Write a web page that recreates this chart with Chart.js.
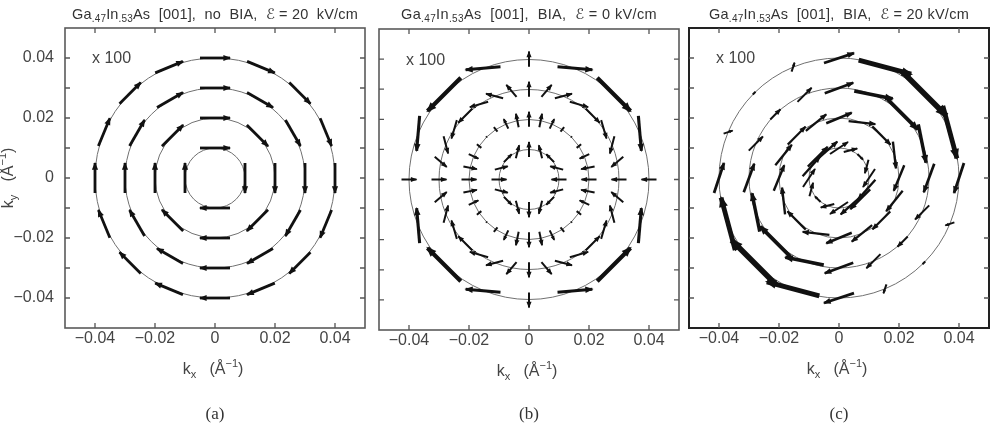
<!DOCTYPE html>
<html>
<head>
<meta charset="utf-8">
<script src="https://cdn.jsdelivr.net/npm/chart.js@4.4.1/dist/chart.umd.min.js"></script>
<style>
  html, body { margin: 0; padding: 0; background: #fff; }
  #wrap { position: relative; width: 997px; height: 434px; overflow: hidden; }
  .panel { position: absolute; top: 0; }
</style>
</head>
<body>
<div id="wrap">
  <div class="panel" style="left:0px"><canvas id="pa" width="372" height="434"></canvas></div>
  <div class="panel" style="left:372px"><canvas id="pb" width="310" height="434"></canvas></div>
  <div class="panel" style="left:682px"><canvas id="pc" width="315" height="434"></canvas></div>
</div>
<script>
'use strict';

// circles in k-space (1/Angstrom)
const rings = [0.01, 0.02, 0.03, 0.04];

// axis ticks
const xTickVals = [-0.04, -0.02, 0, 0.02, 0.04];
const xTickLabels = ['\u22120.04', '\u22120.02', '0', '0.02', '0.04'];
const yTickVals = [-0.04, -0.02, 0, 0.02, 0.04];
const yTickLabels = ['\u22120.04', '\u22120.02', '0', '0.02', '0.04'];
const yMinorVals = [-0.04, -0.03, -0.02, -0.01, 0, 0.01, 0.02, 0.03, 0.04];

// panel texts
const titleTails = ['As  [001],  no  BIA,  \u2130 = 20  kV/cm', 'As  [001],  BIA,  \u2130 = 0 kV/cm', 'As  [001],  BIA,  \u2130 = 20 kV/cm'];
const captions = ['(a)', '(b)', '(c)'];

// (a) Rashba only: sample angles on each ring, arrows tangent (clockwise), fixed length
const aAngles = [
  [0, 90, 180, 270],
  [0, 45, 90, 135, 180, 225, 270, 315],
  [0, 30, 60, 90, 120, 150, 180, 210, 240, 270, 300, 330],
  [0, 22.5, 45, 67.5, 90, 112.5, 135, 157.5, 180, 202.5, 225, 247.5, 270, 292.5, 315, 337.5]
];
const aLength = 0.01;

// sample angles used in (b) and (c)
const ang16 = [0, 22.5, 45, 67.5, 90, 112.5, 135, 157.5, 180, 202.5, 225, 247.5, 270, 292.5, 315, 337.5];
const ang32 = [0, 11.25, 22.5, 33.75, 45, 56.25, 67.5, 78.75, 90, 101.25, 112.5, 123.75, 135, 146.25, 157.5, 168.75,
               180, 191.25, 202.5, 213.75, 225, 236.25, 247.5, 258.75, 270, 281.25, 292.5, 303.75, 315, 326.25, 337.5, 348.75];

// (b) BIA, E = 0 : spin vectors [dx, dy] (x100)
const bVec1 = [[-0.005,0],[-0.0043,0.0011],[-0.0026,0.0026],[-0.0011,0.0043],[0,0.005],[0.0011,0.0043],[0.0026,0.0026],[0.0043,0.0011],
               [0.005,0],[0.0043,-0.0011],[0.0026,-0.0026],[0.0011,-0.0043],[0,-0.005],[-0.0011,-0.0043],[-0.0026,-0.0026],[-0.0043,-0.0011]];
const bVec2 = [[-0.005,0],[-0.0045,-0.0009],[-0.0032,-0.0015],[-0.0015,-0.0012],[0.0003,-0.0003],[0.0012,0.0015],[0.0015,0.0032],[0.0009,0.0045],
               [0,0.005],[-0.0009,0.0045],[-0.0015,0.0032],[-0.0012,0.0015],[-0.0003,-0.0003],[0.0015,-0.0012],[0.0032,-0.0015],[0.0045,-0.0009],
               [0.005,0],[0.0045,0.0009],[0.0032,0.0015],[0.0015,0.0012],[-0.0003,0.0003],[-0.0012,-0.0015],[-0.0015,-0.0032],[-0.0009,-0.0045],
               [0,-0.005],[0.0009,-0.0045],[0.0015,-0.0032],[0.0012,-0.0015],[0.0003,0.0003],[-0.0015,0.0012],[-0.0032,0.0015],[-0.0045,0.0009]];
const bVec3 = [[-0.005,0],[-0.0040,-0.0034],[-0.0015,-0.0057],[0.0018,-0.0061],[0.0047,-0.0047],[0.0061,-0.0018],[0.0057,0.0015],[0.0034,0.0040],
               [0,0.005],[-0.0034,0.0040],[-0.0057,0.0015],[-0.0061,-0.0018],[-0.0047,-0.0047],[-0.0018,-0.0061],[0.0015,-0.0057],[0.0040,-0.0034],
               [0.005,0],[0.0040,0.0034],[0.0015,0.0057],[-0.0018,0.0061],[-0.0047,0.0047],[-0.0061,0.0018],[-0.0057,-0.0015],[-0.0034,-0.0040],
               [0,-0.005],[0.0034,-0.0040],[0.0057,-0.0015],[0.0061,0.0018],[0.0047,0.0047],[0.0018,0.0061],[-0.0015,0.0057],[-0.0040,0.0034]];
const bVec4 = [[-0.005,0],[0.0010,-0.0116],[0.0111,-0.0111],[0.0116,-0.0010],[0,0.005],[-0.0116,-0.0010],[-0.0111,-0.0111],[-0.0010,-0.0116],
               [0.005,0],[-0.0010,0.0116],[-0.0111,0.0111],[-0.0116,0.0010],[0,-0.005],[0.0116,0.0010],[0.0111,0.0111],[0.0010,0.0116]];

// (c) BIA, E = 20 kV/cm : spin vectors [dx, dy] (x100)
const cVec1 = [[-0.0040,-0.0060],[-0.0012,-0.0045],[0.0019,-0.0019],[0.0045,0.0012],[0.0060,0.0040],[0.0065,0.0058],[0.0066,0.0066],[0.0058,0.0065],
               [0.0040,0.0060],[0.0012,0.0045],[-0.0019,0.0019],[-0.0045,-0.0012],[-0.0060,-0.0040],[-0.0065,-0.0058],[-0.0066,-0.0066],[-0.0058,-0.0065]];
const cVec2 = [[-0.0035,-0.0085],[0.0010,-0.0089],[0.0061,-0.0061],[0.0089,-0.0010],[0.0085,0.0035],[0.0068,0.0055],[0.0059,0.0059],[0.0055,0.0068],
               [0.0035,0.0085],[-0.0010,0.0089],[-0.0061,0.0061],[-0.0089,0.0010],[-0.0085,-0.0035],[-0.0068,-0.0055],[-0.0059,-0.0059],[-0.0055,-0.0068]];
const cVec3 = [[-0.0035,-0.0095],[0.0026,-0.0128],[0.0100,-0.0100],[0.0128,-0.0026],[0.0095,0.0035],[0.0047,0.0047],[0.0034,0.0034],[0.0047,0.0047],
               [0.0035,0.0095],[-0.0026,0.0128],[-0.0100,0.0100],[-0.0128,0.0026],[-0.0095,-0.0035],[-0.0047,-0.0047],[-0.0034,-0.0034],[-0.0047,-0.0047]];
const cVec4 = [[-0.0033,-0.0100],[0.0047,-0.0175],[0.0150,-0.0150],[0.0175,-0.0047],[0.0100,0.0033],[0.0010,0.0030],[-0.0009,-0.0009],[0.0030,0.0010],
               [0.0033,0.0100],[-0.0047,0.0175],[-0.0150,0.0150],[-0.0175,0.0047],[-0.0100,-0.0033],[-0.0010,-0.0030],[0.0009,0.0009],[-0.0030,-0.0010]];

const SANS = '"Liberation Sans", Arial, "DejaVu Sans", sans-serif';
const SERIF = '"Liberation Serif", "Times New Roman", serif';
const TXT = '#444';

// build one 2-point line dataset per arrow, centred on its ring point
function arrowSets(angleLists, vecLists, lwFn) {
  const sets = [];
  rings.forEach((r, i) => {
    angleLists[i].forEach((deg, j) => {
      const t = deg * Math.PI / 180;
      const px = r * Math.cos(t), py = r * Math.sin(t);
      const v = vecLists[i][j];
      const len = Math.hypot(v[0], v[1]);
      sets.push({
        data: [{x: px - v[0] / 2, y: py - v[1] / 2}, {x: px + v[0] / 2, y: py + v[1] / 2}],
        showLine: true,
        borderColor: '#111',
        borderWidth: lwFn(len),
        borderCapStyle: 'butt',
        pointRadius: 0,
        fill: false
      });
    });
  });
  return sets;
}

function tangentVecs(angleLists) {
  return angleLists.map(list => list.map(deg => {
    const t = deg * Math.PI / 180;
    return [aLength * Math.sin(t), -aLength * Math.cos(t)];
  }));
}

// rich text: segs = [[text, kind]], kind 0 normal, 1 sub, 2 sup; optional target width
function drawRich(ctx, segs, cx, cy, size, color, target) {
  const small = Math.round(size * 0.68);
  let w = 0, n = 0;
  segs.forEach(s => {
    ctx.font = (s[1] ? small : size) + 'px ' + SANS;
    w += ctx.measureText(s[0]).width;
    n += s[0].length;
  });
  const sp = target ? (target - w) / n : 0;
  let xx = cx - (w + sp * n) / 2;
  ctx.fillStyle = color;
  ctx.textAlign = 'left';
  ctx.textBaseline = 'middle';
  segs.forEach(s => {
    ctx.font = (s[1] ? small : size) + 'px ' + SANS;
    const dy = s[1] === 1 ? size * 0.3 : (s[1] === 2 ? -size * 0.35 : 0);
    if (sp) {
      for (const ch of s[0]) {
        ctx.fillText(ch, xx, cy + dy);
        xx += ctx.measureText(ch).width + sp;
      }
    } else {
      ctx.fillText(s[0], xx, cy + dy);
      xx += ctx.measureText(s[0]).width;
    }
  });
}

const panelCfg = {
  pa: {idx: 0, yLabels: true, frame: '#5a5a5a', frameW: 1.6, titleW: 286},
  pb: {idx: 1, yLabels: false, frame: '#5a5a5a', frameW: 1.6, titleW: 256},
  pc: {idx: 2, yLabels: false, frame: '#222', frameW: 2, titleW: 260}
};

const figPlugin = {
  id: 'fig',
  beforeDatasetsDraw(chart) {
    const {ctx, scales: {x, y}} = chart;
    const cx = x.getPixelForValue(0), cy = y.getPixelForValue(0);
    ctx.save();
    ctx.strokeStyle = '#707070';
    ctx.lineWidth = 1;
    rings.forEach(r => {
      const rp = x.getPixelForValue(r) - cx;
      ctx.beginPath();
      ctx.arc(cx, cy, rp, 0, Math.PI * 2);
      ctx.stroke();
    });
    ctx.restore();
  },
  afterDatasetsDraw(chart) {
    const cfg = panelCfg[chart.canvas.id];
    const {ctx, chartArea: a, scales: {x, y}} = chart;
    ctx.save();

    // arrow heads at the second point of every arrow
    chart.data.datasets.forEach((ds, i) => {
      const pts = chart.getDatasetMeta(i).data;
      const x0 = pts[0].x, y0 = pts[0].y, x1 = pts[1].x, y1 = pts[1].y;
      const len = Math.hypot(x1 - x0, y1 - y0);
      if (len < 7) return;
      const ux = (x1 - x0) / len, uy = (y1 - y0) / len;
      const lw = ds.borderWidth;
      const hl = Math.min(3 + 1.7 * lw, len * 0.45);
      const hw = hl * 0.4;
      const tx = x1 + ux * lw * 0.4, ty = y1 + uy * lw * 0.4;
      ctx.fillStyle = ds.borderColor;
      ctx.beginPath();
      ctx.moveTo(tx, ty);
      ctx.lineTo(tx - hl * ux - hw * uy, ty - hl * uy + hw * ux);
      ctx.lineTo(tx - hl * ux + hw * uy, ty - hl * uy - hw * ux);
      ctx.closePath();
      ctx.fill();
    });

    // frame
    ctx.strokeStyle = cfg.frame;
    ctx.lineWidth = cfg.frameW;
    ctx.strokeRect(a.left, a.top, a.right - a.left, a.bottom - a.top);

    // inward ticks
    ctx.lineWidth = 1.3;
    ctx.strokeStyle = '#555';
    ctx.beginPath();
    xTickVals.forEach(v => {
      const px = x.getPixelForValue(v);
      ctx.moveTo(px, a.bottom); ctx.lineTo(px, a.bottom - 5);
      ctx.moveTo(px, a.top); ctx.lineTo(px, a.top + 5);
    });
    yMinorVals.forEach(v => {
      const py = y.getPixelForValue(v);
      ctx.moveTo(a.left, py); ctx.lineTo(a.left + 5, py);
      ctx.moveTo(a.right, py); ctx.lineTo(a.right - 5, py);
    });
    ctx.stroke();

    // tick labels
    ctx.fillStyle = TXT;
    ctx.font = '16px ' + SANS;
    ctx.textAlign = 'center';
    ctx.textBaseline = 'middle';
    xTickVals.forEach((v, i) => ctx.fillText(xTickLabels[i], x.getPixelForValue(v), a.bottom + 11));
    if (cfg.yLabels) {
      ctx.textAlign = 'right';
      yTickVals.forEach((v, i) => ctx.fillText(yTickLabels[i], a.left - 11, y.getPixelForValue(v)));
    }

    const midX = (a.left + a.right) / 2;
    // x axis title
    drawRich(ctx, [['k', 0], ['x', 1], ['   (\u00c5', 0], ['\u22121', 2], [')', 0]], midX - 2, a.bottom + 42, 16, TXT);
    // y axis title
    if (cfg.yLabels) {
      ctx.save();
      ctx.translate(9, (a.top + a.bottom) / 2);
      ctx.rotate(-Math.PI / 2);
      drawRich(ctx, [['k', 0], ['y', 1], ['   (\u00c5', 0], ['\u22121', 2], [')', 0]], 0, 0, 16, TXT);
      ctx.restore();
    }
    // panel title
    drawRich(ctx, [['Ga', 0], ['.47', 1], ['In', 0], ['.53', 1], [titleTails[cfg.idx], 0]], midX, 15, 14.5, '#333', cfg.titleW);
    // x 100
    ctx.fillStyle = TXT;
    ctx.font = '16px ' + SANS;
    ctx.textAlign = 'left';
    ctx.textBaseline = 'middle';
    ctx.fillText('x 100', a.left + 27, y.getPixelForValue(0.04) + 1);
    // caption
    ctx.font = '17px ' + SERIF;
    ctx.textAlign = 'center';
    ctx.fillStyle = '#333';
    ctx.fillText(captions[cfg.idx], midX, 415);
    ctx.restore();
  }
};

function makeChart(id, pad, datasets) {
  return new Chart(document.getElementById(id), {
    type: 'scatter',
    data: {datasets: datasets},
    options: {
      responsive: false,
      animation: false,
      devicePixelRatio: 1,
      layout: {padding: pad, autoPadding: false},
      scales: {
        x: {type: 'linear', min: -0.05, max: 0.05, display: false},
        y: {type: 'linear', min: -0.05, max: 0.05, display: false}
      },
      plugins: {legend: {display: false}, tooltip: {enabled: false}}
    },
    plugins: [figPlugin]
  });
}

const lwA = () => 2.8;
const lwBC = len => Math.max(2, 265 * len);

makeChart('pa', {left: 65, right: 7, top: 28, bottom: 106}, arrowSets(aAngles, tangentVecs(aAngles), lwA));
makeChart('pb', {left: 7, right: 3, top: 29, bottom: 104},
  arrowSets([ang16, ang32, ang32, ang16], [bVec1, bVec2, bVec3, bVec4], lwBC));
makeChart('pc', {left: 7, right: 8, top: 28, bottom: 106},
  arrowSets([ang16, ang16, ang16, ang16], [cVec1, cVec2, cVec3, cVec4], lwBC));
</script>
</body>
</html>
